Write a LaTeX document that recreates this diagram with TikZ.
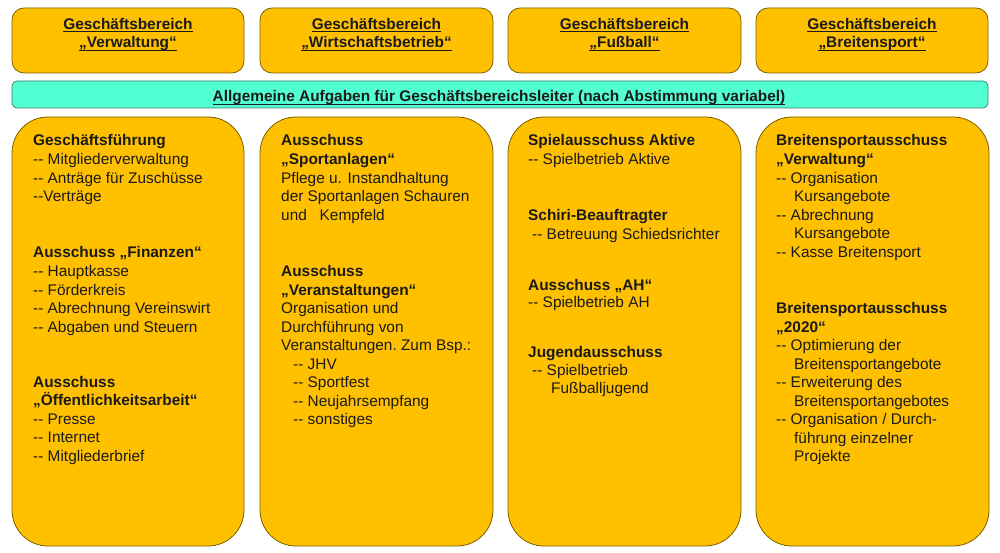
\documentclass[tikz,border=0pt]{standalone}
\usepackage{fontspec}
\setmainfont{Liberation Sans}
\definecolor{gold}{HTML}{FFC000}
\definecolor{goldline}{HTML}{7F6000}
\definecolor{teal1}{HTML}{52FFD3}
\definecolor{tealline}{HTML}{3F7F70}
\definecolor{textc}{HTML}{1A1A1A}
\newcommand\ulnode[1]{\draw[ulline] ([yshift=-2.2pt]#1.base west) -- ([yshift=-2.2pt]#1.base east);}
\newcommand\dd{-{}-}
\begin{document}
\begin{tikzpicture}[x=1pt,y=-1pt,
  topbox/.style={fill=gold,draw=goldline,line width=0.8pt,rounded corners=12pt},
  bigbox/.style={fill=gold,draw=goldline,line width=0.8pt,rounded corners=36pt},
  barbox/.style={fill=teal1,draw=tealline,line width=0.8pt,rounded corners=5pt},
  txt/.style={anchor=base west,inner sep=0pt,text=textc,font=\fontsize{15.4}{18.5}\selectfont},
  hd/.style={txt,font=\fontsize{15.4}{18.5}\selectfont\bfseries},
  ttl/.style={hd,anchor=base},
  ulline/.style={draw=textc,line width=1.1pt}]
\useasboundingbox (0,0) rectangle (1000,553);
\fill[white] (0,0) rectangle (1000,553);
% top boxes
\draw[topbox] (12,8) rectangle (244,73);
\draw[topbox] (260,8) rectangle (493,73);
\draw[topbox] (508,8) rectangle (741,73);
\draw[topbox] (756,8) rectangle (988,73);
\node[ttl] (t1a) at (128,29.5) {Geschäftsbereich};
\node[ttl] (t1b) at (128,48) {„Verwaltung“};
\node[ttl] (t2a) at (376.5,29.5) {Geschäftsbereich};
\node[ttl] (t2b) at (376.5,48) {„Wirtschaftsbetrieb“};
\node[ttl] (t3a) at (624.5,29.5) {Geschäftsbereich};
\node[ttl] (t3b) at (624.5,48) {„Fußball“};
\node[ttl] (t4a) at (872,29.5) {Geschäftsbereich};
\node[ttl] (t4b) at (872,48) {„Breitensport“};
\foreach \n in {t1a,t1b,t2a,t2b,t3a,t3b,t4a,t4b} {\ulnode{\n}}
% bar
\draw[barbox] (12,81) rectangle (988,108);
\node[ttl] (bar) at (499,102) {Allgemeine Aufgaben für Geschäftsbereichsleiter (nach Abstimmung variabel)};
\ulnode{bar}
% big boxes
\draw[bigbox] (12,117) rectangle (244,546);
\draw[bigbox] (260,117) rectangle (493,546);
\draw[bigbox] (508,117) rectangle (741,546);
\draw[bigbox] (756,117) rectangle (989,546);
% column 1
\node[hd] (a1) at (33,146) {Geschäftsführung};
\node[txt] (a2) at (33,165) {\dd{} Mitgliederverwaltung};
\node[txt] (a3) at (33,183.5) {\dd{} Anträge für Zuschüsse};
\node[txt] (a4) at (33,202) {\dd{}Verträge};
\node[hd] (a5) at (33,258) {Ausschuss „Finanzen“};
\node[txt] (a6) at (33,276.5) {\dd{} Hauptkasse};
\node[txt] (a7) at (33,295) {\dd{} Förderkreis};
\node[txt] (a8) at (33,313.5) {\dd{} Abrechnung Vereinswirt};
\node[txt] (a9) at (33,332) {\dd{} Abgaben und Steuern};
\node[hd] (a10) at (33,387) {Ausschuss};
\node[hd] (a11) at (33,405.5) {„Öffentlichkeitsarbeit“};
\node[txt] (a12) at (33,424) {\dd{} Presse};
\node[txt] (a13) at (33,442.5) {\dd{} Internet};
\node[txt] (a14) at (33,461) {\dd{} Mitgliederbrief};
% column 2
\node[hd] (b1) at (281,146) {Ausschuss};
\node[hd] (b2) at (281,165) {„Sportanlagen“};
\node[txt] (b3) at (281,183.5) {Pflege u. Instandhaltung};
\node[txt] (b4) at (281,202) {der Sportanlagen Schauren};
\node[txt] (b5) at (281,220.5) {und\ \ \ Kempfeld};
\node[hd] (b6) at (281,276.5) {Ausschuss};
\node[hd] (b7) at (281,295) {„Veranstaltungen“};
\node[txt] (b8) at (281,313.5) {Organisation und};
\node[txt] (b9) at (281,332) {Durchführung von};
\node[txt] (b10) at (281,350.5) {Veranstaltungen.\ Zum Bsp.:};
\node[txt] (b11) at (293,369) {\dd{} JHV};
\node[txt] (b12) at (293,387.5) {\dd{} Sportfest};
\node[txt] (b13) at (293,406) {\dd{} Neujahrsempfang};
\node[txt] (b14) at (293,424.5) {\dd{} sonstiges};
% column 3
\node[hd] (c1) at (528,146) {Spielausschuss Aktive};
\node[txt] (c2) at (528,165) {\dd{} Spielbetrieb Aktive};
\node[hd] (c3) at (528,221) {Schiri-Beauftragter};
\node[txt] (c4) at (532,239.5) {\dd{} Betreuung Schiedsrichter};
\node[hd] (c5) at (528,290) {Ausschuss „AH“};
\node[txt] (c6) at (528,307.5) {\dd{} Spielbetrieb AH};
\node[hd] (c7) at (528,357) {Jugendausschuss};
\node[txt] (c8) at (532,375.5) {\dd{} Spielbetrieb};
\node[txt] (c9) at (551,393.5) {Fußballjugend};
% column 4
\node[hd] (d1) at (776,146) {Breitensportausschuss};
\node[hd] (d2) at (776,165) {„Verwaltung“};
\node[txt] (d3) at (776,183.5) {\dd{} Organisation};
\node[txt] (d4) at (794,202) {Kursangebote};
\node[txt] (d5) at (776,220.5) {\dd{} Abrechnung};
\node[txt] (d6) at (794,239) {Kursangebote};
\node[txt] (d7) at (776,257.5) {\dd{} Kasse Breitensport};
\node[hd] (d8) at (776,313.5) {Breitensportausschuss};
\node[hd] (d9) at (776,332) {„2020“};
\node[txt] (d10) at (776,350.5) {\dd{} Optimierung der};
\node[txt] (d11) at (794,369) {Breitensportangebote};
\node[txt] (d12) at (776,387.5) {\dd{} Erweiterung des};
\node[txt] (d13) at (794,406) {Breitensportangebotes};
\node[txt] (d14) at (776,424.5) {\dd{} Organisation / Durch-};
\node[txt] (d15) at (794,443) {führung einzelner};
\node[txt] (d16) at (794,461.5) {Projekte};
\end{tikzpicture}
\end{document}
